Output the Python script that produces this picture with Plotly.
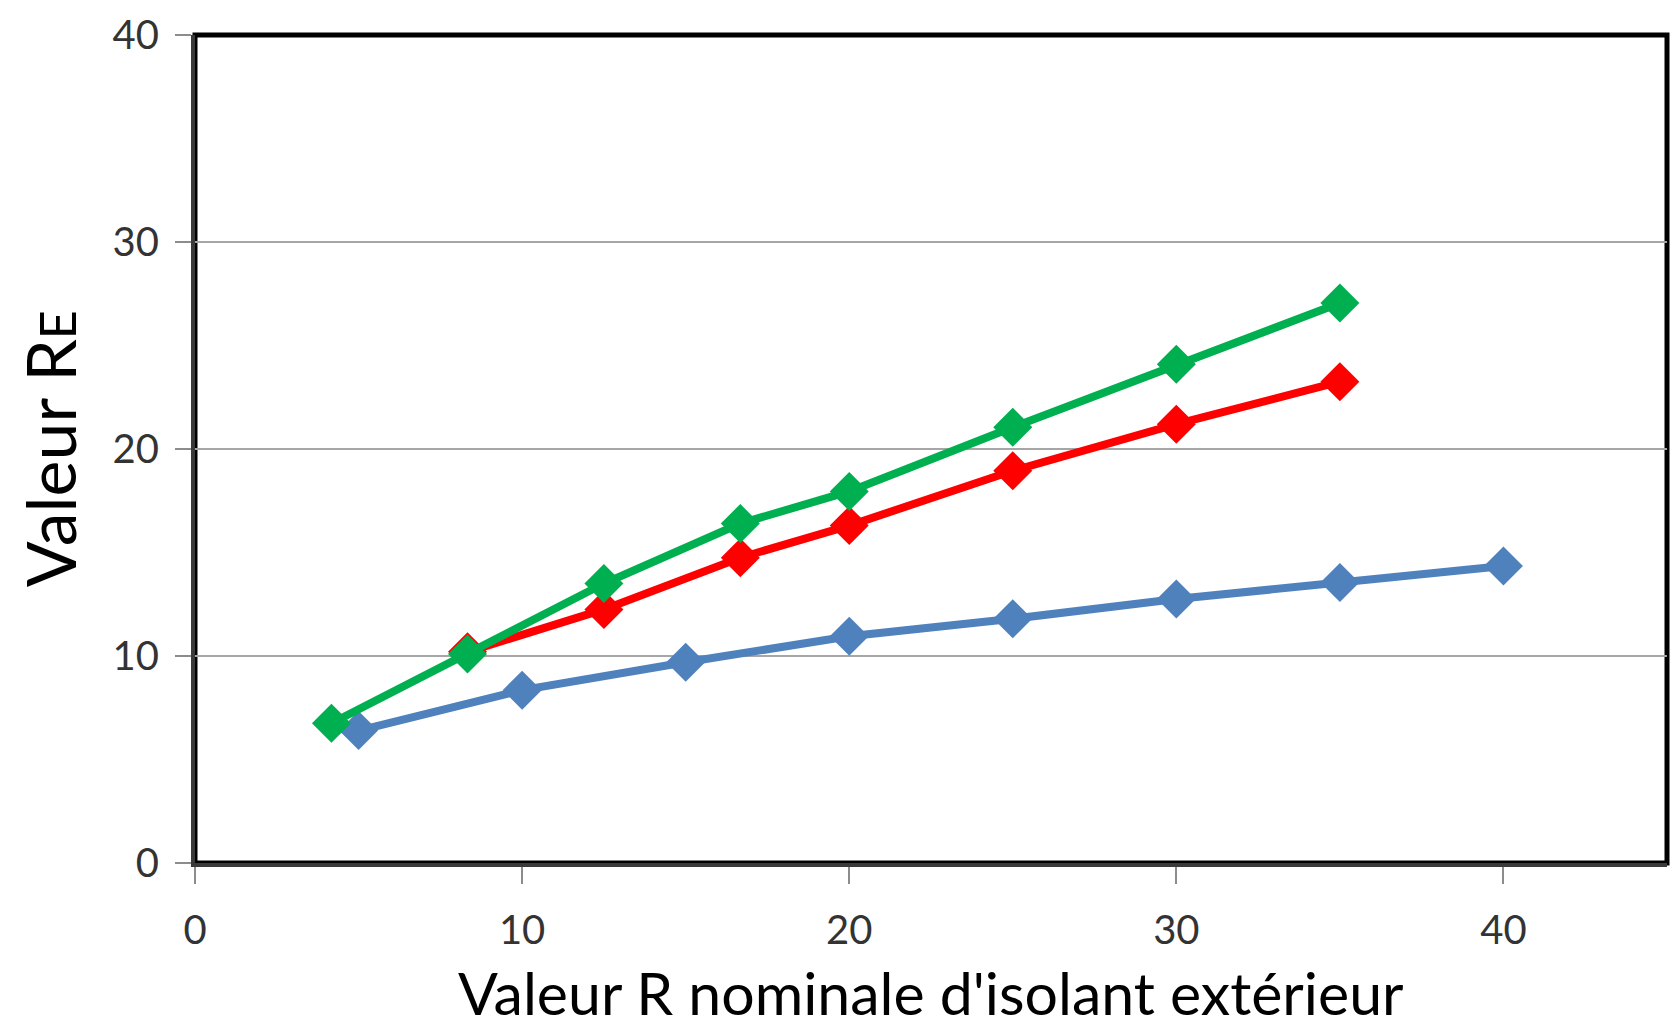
import plotly.graph_objects as go

# Nominal exterior insulation R-value (x) vs effective R-value (y)
blue_x = [5, 10, 15, 20, 25, 30, 35, 40]
blue_y = [6.4, 8.35, 9.7, 10.95, 11.8, 12.75, 13.55, 14.35]

red_x = [8.33, 12.5, 16.67, 20, 25, 30, 35]
red_y = [10.2, 12.25, 14.75, 16.3, 18.95, 21.2, 23.25]

green_x = [4.17, 8.33, 12.5, 16.67, 20, 25, 30, 35]
green_y = [6.75, 10.1, 13.5, 16.4, 17.95, 21.05, 24.1, 27.05]

x_ticks = [0, 10, 20, 30, 40]
y_ticks = [0, 10, 20, 30, 40]

FONT = "Lato, Open Sans, sans-serif"

fig = go.Figure()
for xs, ys, col in [(blue_x, blue_y, "#4F81BD"),
                    (red_x, red_y, "#FF0000"),
                    (green_x, green_y, "#00B050")]:
    fig.add_trace(go.Scatter(
        x=xs, y=ys, mode="lines+markers",
        line=dict(color=col, width=8),
        marker=dict(symbol="diamond", size=30, color=col),
        showlegend=False,
    ))

fig.update_layout(
    width=1677, height=1031,
    margin=dict(l=195, r=10, t=30, b=168),
    paper_bgcolor="white", plot_bgcolor="white",
    font=dict(family=FONT, color="#333333"),
    shapes=[dict(type="rect", xref="paper", yref="paper", x0=0, y0=0, x1=1, y1=1,
                 line=dict(color="black", width=5), layer="below")],
    annotations=[
        dict(text="Valeur R<span style='font-size:50px'>E</span>", xref="paper", yref="paper",
             x=-0.099, y=0.5, xanchor="center", yanchor="middle", textangle=-90,
             showarrow=False, font=dict(size=68, color="black", family=FONT)),
        dict(text="Valeur R nominale d'isolant extérieur", xref="paper", yref="paper",
             x=0.5, y=-0.156, xanchor="center", yanchor="middle",
             showarrow=False, font=dict(size=59, color="black", family=FONT)),
    ],
)
fig.update_xaxes(
    range=[0, 45], tickvals=x_ticks, showgrid=False, zeroline=False,
    showline=True, linecolor="#3a3a3a", linewidth=4,
    ticks="outside", ticklen=17, tickwidth=2, tickcolor="#8c8c8c",
    tickfont=dict(size=40, color="#333333"), ticklabelstandoff=12,
)
fig.update_yaxes(
    range=[0, 40], tickvals=y_ticks, showgrid=True, gridcolor="#a6a6a6", gridwidth=2,
    zeroline=False, showline=True, linecolor="#3a3a3a", linewidth=4,
    ticks="outside", ticklen=16, tickwidth=2, tickcolor="#8c8c8c",
    tickfont=dict(size=40, color="#333333"), ticklabelstandoff=8,
)

fig.write_html("out.html")
